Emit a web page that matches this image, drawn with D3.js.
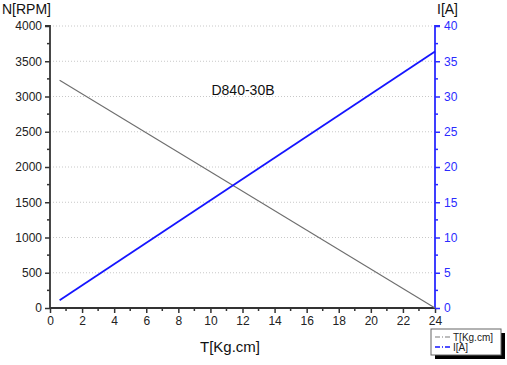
<!DOCTYPE html>
<html><head><meta charset="utf-8">
<script src="https://cdn.jsdelivr.net/npm/d3@7"></script>
<style>body{margin:0;background:#fff}svg{display:block;font-family:"Liberation Sans",Arial,sans-serif}</style>
</head><body>
<script>
const xDomain = [0, 24];
const nDomain = [0, 4000];
const iDomain = [0, 40];
const xTicks = [0,2,4,6,8,10,12,14,16,18,20,22,24];
const nTicks = [0,500,1000,1500,2000,2500,3000,3500,4000];
const iTicks = [0,5,10,15,20,25,30,35,40];
const torque = [0.6, 24];
const speed = [3230, 0];
const current = [1.1, 36.4];
const title = "D840-30B";

const W = 507, H = 365;
const svg = d3.select("body").append("svg").attr("width", W).attr("height", H);
const m = {l:50, r:435, t:26, b:308};
const x = d3.scaleLinear().domain(xDomain).range([m.l, m.r]);
const yN = d3.scaleLinear().domain(nDomain).range([m.b, m.t]);
const yI = d3.scaleLinear().domain(iDomain).range([m.b, m.t]);

// gridlines
svg.append("g").selectAll("line").data(nTicks.filter(d=>d>0)).join("line")
  .attr("x1", m.l).attr("x2", m.r).attr("y1", d=>yN(d)).attr("y2", d=>yN(d))
  .attr("stroke", "#c8c8c8").attr("stroke-width", 1).attr("stroke-dasharray", "1,2");

const axisCol = "#333";
const blue = "#2b2bff";
const xMinor = d3.range(1, 24, 2);
const nMinor = d3.range(250, 4000, 500);
const iMinor = d3.range(2.5, 40, 5);

const gx = svg.append("g").attr("transform", `translate(0,${m.b})`)
  .call(d3.axisBottom(x).tickValues(xTicks).tickSize(5).tickPadding(3).tickFormat(d3.format("d")));
gx.append("g").selectAll("line").data(xMinor).join("line")
  .attr("x1", d=>x(d)).attr("x2", d=>x(d)).attr("y1", 0).attr("y2", 3).attr("stroke", axisCol).attr("stroke-width", 1.5);

const gl = svg.append("g").attr("transform", `translate(${m.l},0)`)
  .call(d3.axisLeft(yN).tickValues(nTicks).tickSize(5).tickPadding(3).tickFormat(d3.format("d")));
gl.append("g").selectAll("line").data(nMinor).join("line")
  .attr("y1", d=>yN(d)).attr("y2", d=>yN(d)).attr("x1", 0).attr("x2", -3).attr("stroke", axisCol).attr("stroke-width", 1.5);

const gr = svg.append("g").attr("transform", `translate(${m.r},0)`)
  .call(d3.axisRight(yI).tickValues(iTicks).tickSize(5).tickPadding(4).tickFormat(d3.format("d")));
gr.append("g").selectAll("line").data(iMinor).join("line")
  .attr("y1", d=>yI(d)).attr("y2", d=>yI(d)).attr("x1", 0).attr("x2", 3).attr("stroke", blue).attr("stroke-width", 1.5);

[gx, gl].forEach(g => {
  g.select(".domain").attr("stroke", axisCol).attr("stroke-width", 1.8);
  g.selectAll(".tick line").attr("stroke", axisCol).attr("stroke-width", 1.5);
  g.selectAll(".tick text").attr("fill", "#222").style("font-size", "12px").style("font-family", "Liberation Sans, Arial, sans-serif");
});
gr.select(".domain").attr("stroke", blue).attr("stroke-width", 1.8);
gr.selectAll(".tick line").attr("stroke", blue).attr("stroke-width", 1.5);
gr.selectAll(".tick text").attr("fill", blue).style("font-size", "12px").style("font-family", "Liberation Sans, Arial, sans-serif");
gx.selectAll(".domain").attr("d", `M${m.l},0H${m.r}`);
gl.selectAll(".domain").attr("d", `M0,${m.b}V${m.t}H-5`);
gr.selectAll(".domain").attr("d", `M0,${m.b}V${m.t}H5`);

// lines
const lineN = d3.line().x((d,i)=>x(torque[i])).y(d=>yN(d));
const lineI = d3.line().x((d,i)=>x(torque[i])).y(d=>yI(d));
svg.append("path").attr("d", lineN(speed)).attr("fill","none").attr("stroke","#6e6e6e").attr("stroke-width",1.1);
svg.append("path").attr("d", lineI(current)).attr("fill","none").attr("stroke","#1515ff").attr("stroke-width",1.8);

// labels
svg.append("text").attr("x", 2).attr("y", 14).text("N[RPM]").style("font-size","14px").attr("fill","#111");
svg.append("text").attr("x", 437).attr("y", 14).text("I[A]").style("font-size","14px").attr("fill","#111");
svg.append("text").attr("x", 230).attr("y", 352).attr("text-anchor","middle").text("T[Kg.cm]").style("font-size","15px").attr("fill","#111");
svg.append("text").attr("x", 243).attr("y", 95).attr("text-anchor","middle").text(title).style("font-size","14px").attr("fill","#111");

// legend
const lg = svg.append("g").attr("transform","translate(431,329)");
lg.append("rect").attr("x",4).attr("y",4).attr("width",70).attr("height",26).attr("fill","#000");
lg.append("rect").attr("x",0).attr("y",0).attr("width",70).attr("height",26).attr("fill","#fff").attr("stroke","#666").attr("stroke-width",1);
const legItems = [{name:"T[Kg.cm]", col:"#7a7a7a", w:1.2},{name:"I[A]", col:"#1515ff", w:1.6}];
legItems.forEach((d,i)=>{
  const yy = 8 + i*10;
  lg.append("line").attr("x1",4).attr("x2",21).attr("y1",yy).attr("y2",yy).attr("stroke",d.col).attr("stroke-width",d.w).attr("stroke-dasharray","5,2,1,2");
  lg.append("text").attr("x",22).attr("y",yy+3.5).text(d.name).style("font-size","10px").attr("fill","#222");
});
</script>
</body></html>
